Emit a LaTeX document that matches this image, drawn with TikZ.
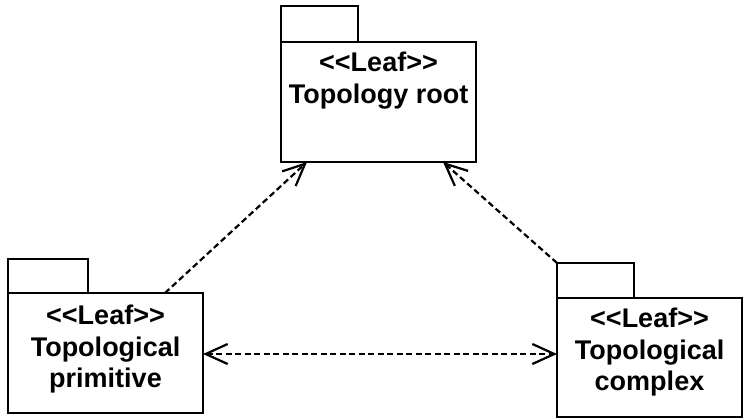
\documentclass[tikz,border=0pt]{standalone}
\usepackage{fontspec}
\setmainfont{Liberation Sans}[BoldFont={Liberation Sans Bold},Ligatures=TeXOff]
\usetikzlibrary{arrows.meta,calc}
\begin{document}
\begin{tikzpicture}[x=1pt,y=-1pt,
  pkgbody/.style={draw,line width=2.4pt,minimum width=195pt,minimum height=120pt,inner sep=0pt,outer sep=0pt,anchor=north west,fill=white},
  pkgtab/.style={draw,line width=2.4pt,minimum width=77pt,minimum height=36pt,inner sep=0pt,outer sep=0pt,anchor=south west},
  pkgtext/.style={align=center,anchor=base,inner sep=0pt,font=\fontsize{27}{31.5}\selectfont\bfseries},
  dep/.style={line width=2.2pt,dash pattern=on 6pt off 3.5pt,-{Straight Barb[length=22pt,width=20pt,line width=2.2pt]}},
  both/.style={line width=2.2pt,dash pattern=on 6pt off 3.5pt,{Straight Barb[length=22pt,width=20pt,line width=2.2pt]}-{Straight Barb[length=22pt,width=20pt,line width=2.2pt]}}]
\useasboundingbox (0,0) rectangle (744,419);
\newcommand{\leafstereo}{<<Leaf>>}
% root package
\node[pkgbody] (root) at (281,42) {};
\node[pkgtab] (roottab) at (root.north west) {};
\node[pkgtext] (roottext) at (378.5,103.5) {\leafstereo\\Topology root};
% primitive package
\node[pkgbody] (prim) at (8,293) {};
\node[pkgtab,minimum width=80pt,minimum height=34pt] (primtab) at (prim.north west) {};
\node[pkgtext] (primtext) at (105.5,388) {\leafstereo\\Topological\\primitive};
% complex package
\node[pkgbody,minimum width=185pt,minimum height=119pt] (comp) at (557,298) {};
\node[pkgtab,minimum width=77pt,minimum height=35pt] (comptab) at (comp.north west) {};
\node[pkgtext] (comptext) at (649.5,391) {\leafstereo\\Topological\\complex};
% connectors
\coordinate (pstart) at ($(prim.north west)+(157,0)$);
\coordinate (rl) at ($(root.south west)+(26,0)$);
\coordinate (rr) at ($(root.south west)+(162,0)$);
\draw[dep] (pstart) -- (rl);
\draw[dep] (comptab.north west) -- (rr);
\draw[both] ($(prim.north east)+(0,61)$) -- ($(comp.north west)+(0,56)$);
\end{tikzpicture}
\end{document}
